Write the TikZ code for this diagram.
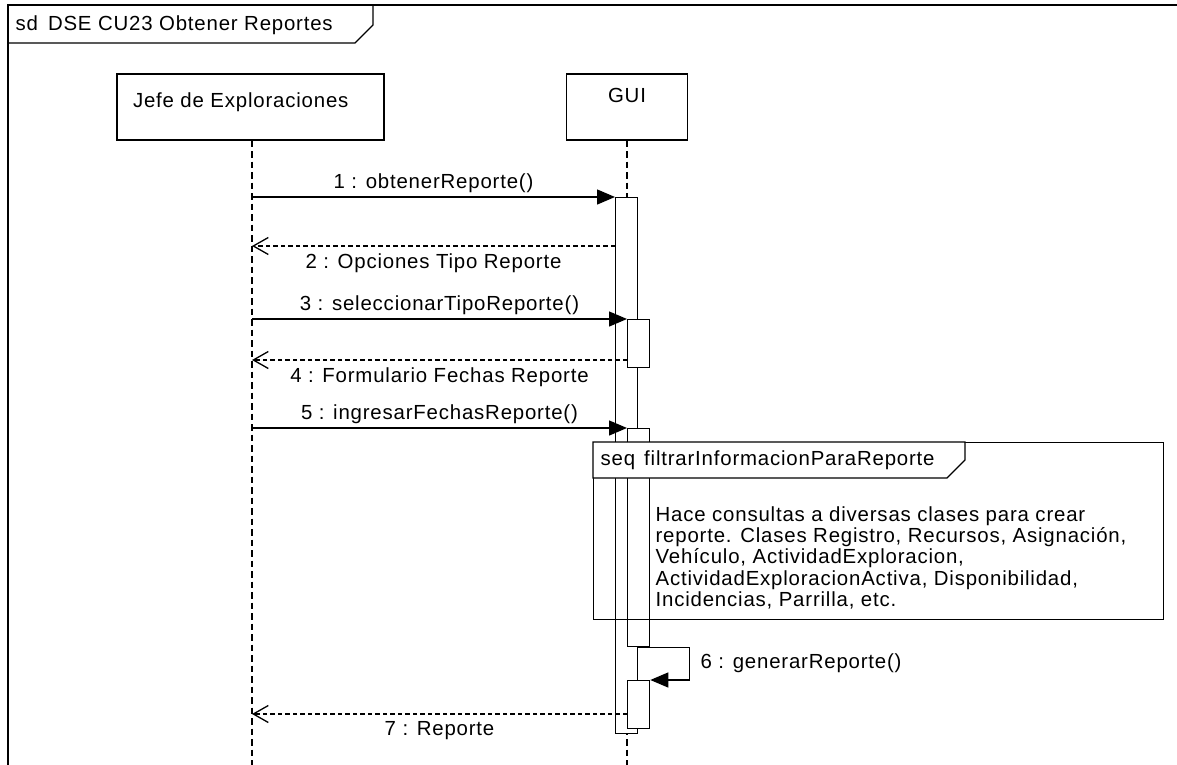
\documentclass[tikz,border=0pt]{standalone}
\usepackage{fontspec}
\setmainfont{Liberation Sans}[LetterSpace=4.0]
\usetikzlibrary{arrows.meta,calc}
\begin{document}
\begin{tikzpicture}[x=1pt,y=-1pt,line width=1.3pt,
  every node/.style={font=\fontsize{20.4}{21.2}\selectfont,inner sep=0pt},
  headbox/.style={draw,fill=white,minimum height=66pt},
  actbar/.style={draw,fill=white,minimum width=22pt,anchor=north west},
  lifeline/.style={dash pattern=on 6.5pt off 4pt},
  callmsg/.style={-{Triangle[length=18pt,width=15pt]}},
  retmsg/.style={dash pattern=on 4.5pt off 3pt,-{Straight Barb[length=15pt,width=17pt]}},
  msglabel/.style={midway}]
\clip (0,0) rectangle (1177,765);
\fill[white] (0,0) rectangle (1177,765);
% outer frame
\draw (8,775) -- (8,5) -- (1185,5);
\draw (8,43) -- (355,43) -- (373,25) -- (373,5);
\node[anchor=west] (title) at (15,25) {sd\hspace{10pt}DSE CU23 Obtener Reportes};
% lifeline heads
\node[headbox,minimum width=267pt,
  label={[anchor=west,inner sep=0pt]west:\hspace{16pt}\raisebox{14pt}{Jefe de Exploraciones}}] (jefe) at (250.5,107) {};
\node[headbox,minimum width=121pt,
  label={[anchor=north,inner sep=0pt,yshift=-14pt]north:GUI}] (gui) at (627,107) {};
% lifelines
\coordinate (bottom) at (0,775);
\draw[lifeline] (jefe.south -| 252,0) -- (252,775);
\draw[lifeline] (gui.south) -- (gui.south |- bottom);
% activation bars
\node[actbar,minimum height=536pt] (b1) at (615,197) {};
\node[actbar,minimum height=48pt] (b2) at (627,319) {};
\node[actbar,minimum height=218pt] (b3) at (627,428) {};
\node[actbar,minimum height=48pt] (b4) at (627,680) {};
\coordinate (jl) at (252,140);
\coordinate (y2) at (0,246);
\coordinate (y4) at (0,360);
\coordinate (y7) at (0,714);
% messages
\draw[callmsg] (jl |- b1.north west) -- node[msglabel,above=4pt] {1 : obtenerReporte()} (b1.north west);
\draw[retmsg] (b1.west |- y2) -- node[msglabel,below=7pt] {2 : Opciones Tipo Reporte} (jl |- y2);
\draw[callmsg] (jl |- b2.north west) -- node[msglabel,above=4pt] {3 : seleccionarTipoReporte()} (b2.north west);
\draw[retmsg] (b2.west |- y4) -- node[msglabel,below=7pt] {4 : Formulario Fechas Reporte} (jl |- y4);
\draw[callmsg] (jl |- b3.north west) -- node[msglabel,above=4pt] {5 : ingresarFechasReporte()} (b3.north west);
% combined fragment
\node[draw,minimum width=570pt,minimum height=177pt,anchor=north west] (seq) at (593,442) {};
\draw[fill=white] (seq.north west) -- ++(372,0) -- ++(0,18) -- ++(-18,18) -- ++(-354,0) -- cycle;
\node[anchor=west] (seqlabel) at (600,460) {seq\hspace{9pt}filtrarInformacionParaReporte};
\node[anchor=north west,align=left] (note) at (655,506) {Hace consultas a diversas clases para crear\\reporte. Clases Registro, Recursos, Asignación,\\Vehículo, ActividadExploracion,\\ActividadExploracionActiva, Disponibilidad,\\Incidencias, Parrilla, etc.};
% self message
\draw[callmsg] (b1.east |- b3.south) -- ++(51,0) |- (b4.north east);
\node[anchor=west] (m6) at (700,663) {6 : generarReporte()};
% reply
\draw[retmsg] (b4.west |- y7) -- node[msglabel,below=7pt] {7 : Reporte} (jl |- y7);
\end{tikzpicture}
\end{document}
